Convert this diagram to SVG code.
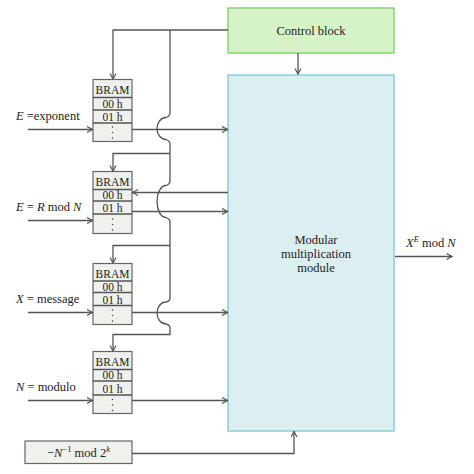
<svg xmlns="http://www.w3.org/2000/svg" width="474" height="474" viewBox="0 0 474 474">
<style>
text{font-family:"Liberation Serif","Times New Roman",serif;fill:#222;font-size:12.5px}
.c{text-anchor:middle}
.b{font-size:11.5px}
.bram{fill:#eef1ec;stroke:#666;stroke-width:1.2}
.ln{fill:none;stroke:#555;stroke-width:1.3}
.dot{fill:#444}
</style>
<defs>
<marker id="ah" markerWidth="8" markerHeight="8" refX="6" refY="3.5" orient="auto" markerUnits="userSpaceOnUse">
<path d="M0.5,0.5 L6,3.5 L0.5,6.5" fill="none" stroke="#555" stroke-width="1.2"/>
</marker>
</defs>
<rect width="474" height="474" fill="#fff"/>

<g id="control-block">
<rect x="228" y="8" width="166" height="45" fill="#d6f3c8" stroke="#88d46f" stroke-width="1.5"/>
<text class="c" x="311" y="35">Control block</text>
</g>

<g id="modular-multiplication-module">
<rect x="228" y="75" width="166" height="356" fill="#dbeef0" stroke="#86d0dc" stroke-width="1.5"/>
<text class="c" x="316" y="244">Modular</text>
<text class="c" x="316" y="258">multiplication</text>
<text class="c" x="316" y="272">module</text>
</g>

<g id="bram1">
<rect class="bram" x="93" y="79.5" width="39" height="62"/>
<line class="ln" x1="93" y1="97.5" x2="132" y2="97.5"/>
<line class="ln" x1="93" y1="110" x2="132" y2="110"/>
<line class="ln" x1="93" y1="123" x2="132" y2="123"/>
<text class="c b" x="112.5" y="94">BRAM</text>
<text class="c b" x="112.5" y="108">00 h</text>
<text class="c b" x="112.5" y="121">01 h</text>
<circle class="dot" cx="112.5" cy="127" r="0.8"/><circle class="dot" cx="112.5" cy="132.5" r="0.8"/><circle class="dot" cx="112.5" cy="138" r="0.8"/>
</g>

<g id="bram2">
<rect class="bram" x="93" y="171.5" width="39" height="62"/>
<line class="ln" x1="93" y1="189.5" x2="132" y2="189.5"/>
<line class="ln" x1="93" y1="201" x2="132" y2="201"/>
<line class="ln" x1="93" y1="214" x2="132" y2="214"/>
<text class="c b" x="112.5" y="186">BRAM</text>
<text class="c b" x="112.5" y="199">00 h</text>
<text class="c b" x="112.5" y="212">01 h</text>
<circle class="dot" cx="112.5" cy="219" r="0.8"/><circle class="dot" cx="112.5" cy="224.5" r="0.8"/><circle class="dot" cx="112.5" cy="230" r="0.8"/>
</g>

<g id="bram3">
<rect class="bram" x="93" y="263.5" width="39" height="61"/>
<line class="ln" x1="93" y1="281" x2="132" y2="281"/>
<line class="ln" x1="93" y1="292.5" x2="132" y2="292.5"/>
<line class="ln" x1="93" y1="305.5" x2="132" y2="305.5"/>
<text class="c b" x="112.5" y="277.5">BRAM</text>
<text class="c b" x="112.5" y="290.5">00 h</text>
<text class="c b" x="112.5" y="303.5">01 h</text>
<circle class="dot" cx="112.5" cy="310" r="0.8"/><circle class="dot" cx="112.5" cy="315.5" r="0.8"/><circle class="dot" cx="112.5" cy="321" r="0.8"/>
</g>

<g id="bram4">
<rect class="bram" x="93" y="351.5" width="39" height="62"/>
<line class="ln" x1="93" y1="369.5" x2="132" y2="369.5"/>
<line class="ln" x1="93" y1="381" x2="132" y2="381"/>
<line class="ln" x1="93" y1="395" x2="132" y2="395"/>
<text class="c b" x="112.5" y="366">BRAM</text>
<text class="c b" x="112.5" y="379">00 h</text>
<text class="c b" x="112.5" y="392.5">01 h</text>
<circle class="dot" cx="112.5" cy="399.5" r="0.8"/><circle class="dot" cx="112.5" cy="405" r="0.8"/><circle class="dot" cx="112.5" cy="410.5" r="0.8"/>
</g>

<g id="ninv-box">
<rect class="bram" x="25" y="441" width="107" height="22.5"/>
<text class="c" x="78.5" y="457">−<tspan font-style="italic">N</tspan><tspan font-size="8.5" dy="-5">−1</tspan><tspan dy="5"> mod 2</tspan><tspan font-size="8.5" font-style="italic" dy="-5">k</tspan></text>
</g>

<g id="labels">
<text x="16" y="120"><tspan font-style="italic">E</tspan> =exponent</text>
<text x="16" y="211"><tspan font-style="italic">E</tspan> = <tspan font-style="italic">R</tspan> mod <tspan font-style="italic">N</tspan></text>
<text x="16" y="302.5"><tspan font-style="italic">X</tspan> = message</text>
<text x="16" y="391"><tspan font-style="italic">N</tspan> = modulo</text>
<text x="406" y="247"><tspan font-style="italic">X</tspan><tspan font-size="8.5" font-style="italic" dy="-5">E</tspan><tspan dy="5"> mod </tspan><tspan font-style="italic">N</tspan></text>
</g>

<g id="connectors">
<!-- control bus -->
<path class="ln" d="M228,30 H113 V79" marker-end="url(#ah)"/>
<path class="ln" d="M170,30 V113 Q170,116 166,117.5 A9,11 0 0 0 166,139.5 Q170,141 170,144 V181 Q170,184 166,185.5 A9,16 0 0 0 166,217.5 Q170,219 170,222 V298 Q170,301 166,302 A9,11 0 0 0 166,324 Q170,325 170,328 V334.5 H113 V351" marker-end="url(#ah)"/>
<path class="ln" d="M170,153.5 H113 V171" marker-end="url(#ah)"/>
<path class="ln" d="M170,245.5 H113 V263" marker-end="url(#ah)"/>
<!-- control to module -->
<path class="ln" d="M298,53 V74" marker-end="url(#ah)"/>
<!-- inputs -->
<path class="ln" d="M28,129.5 H92.5" marker-end="url(#ah)"/>
<path class="ln" d="M28,220.5 H92.5" marker-end="url(#ah)"/>
<path class="ln" d="M28,312.5 H92.5" marker-end="url(#ah)"/>
<path class="ln" d="M28,400.5 H92.5" marker-end="url(#ah)"/>
<!-- BRAM to module -->
<path class="ln" d="M132,129.5 H227.5" marker-end="url(#ah)"/>
<path class="ln" d="M132,211.5 H227.5" marker-end="url(#ah)"/>
<path class="ln" d="M132,312.5 H227.5" marker-end="url(#ah)"/>
<path class="ln" d="M132,400.5 H227.5" marker-end="url(#ah)"/>
<!-- module to BRAM2 -->
<path class="ln" d="M228,192.5 H132.5" marker-end="url(#ah)"/>
<!-- output -->
<path class="ln" d="M395,256.5 H452" marker-end="url(#ah)"/>
<!-- -N^-1 to module -->
<path class="ln" d="M132,453.5 H294 V431.5" marker-end="url(#ah)"/>
</g>
</svg>
